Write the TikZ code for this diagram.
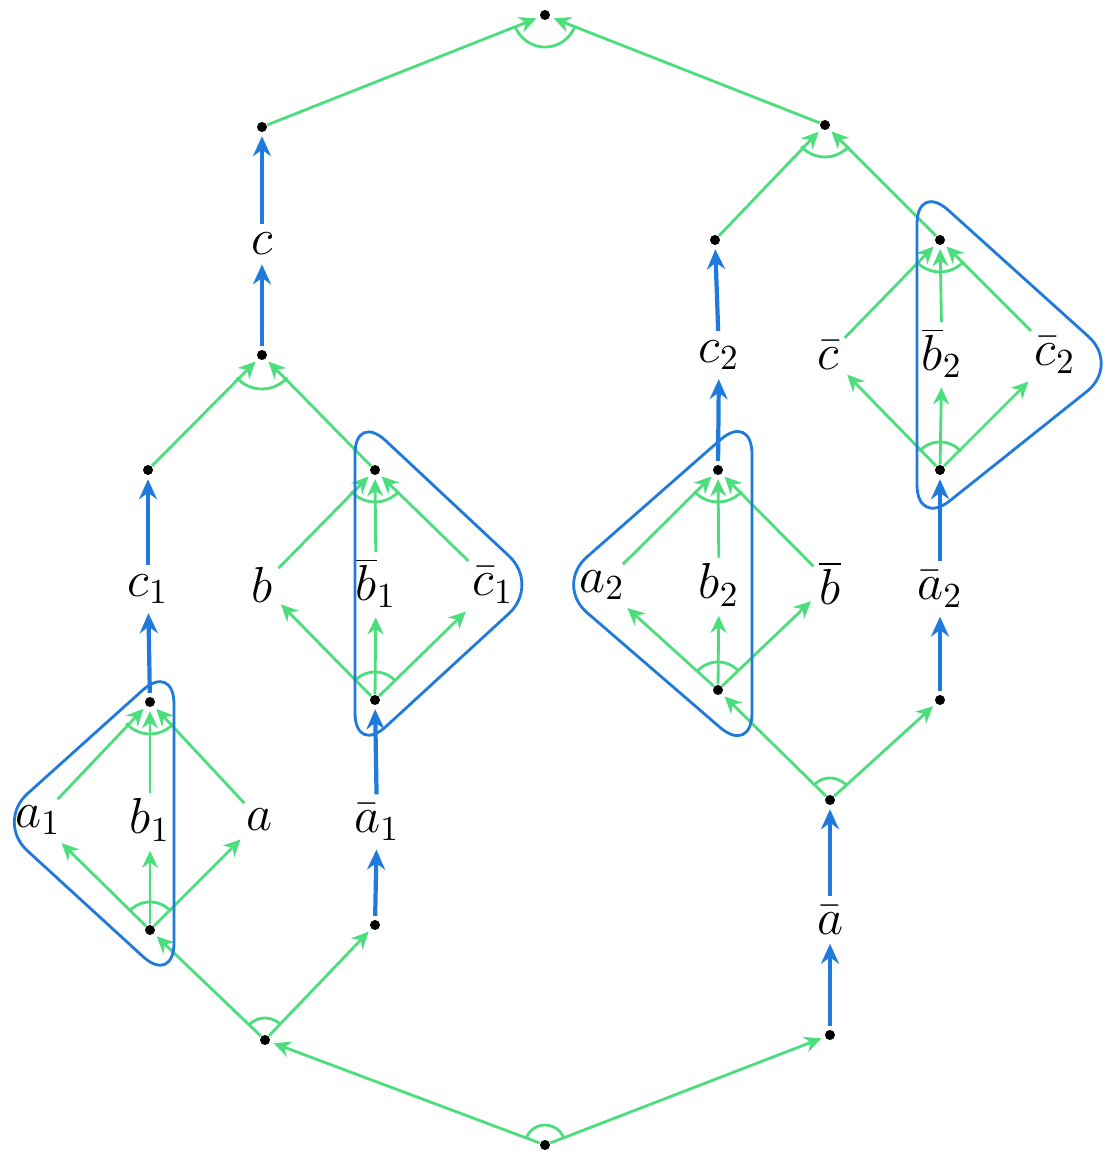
\documentclass[tikz,border=0pt]{standalone}
\usetikzlibrary{arrows.meta}
\definecolor{Leaf}{HTML}{4CDD7C}
\definecolor{Wire}{HTML}{1F7ADB}
\begin{document}
\begin{tikzpicture}[
    dot/.style={circle,fill=black,inner sep=0pt,minimum size=1mm},
    lab/.style={inner sep=1.5pt,font=\Large},
    link/.style={Leaf,thick,-{Stealth[length=1.7mm,width=1.6mm]},shorten >=1pt},
    wire/.style={Wire,very thick,-{Stealth[length=2mm,width=1.8mm]},shorten >=1pt,shorten <=1pt},
    parc/.style={Leaf,thick},
    zone/.style={Wire,thick,rounded corners=12pt}]
    \useasboundingbox (0,0) rectangle (11.06,11.57);

    % spine on the left
    \node[dot] (top) at (5.45,11.42) {};
    \node[dot] (l1) at (2.62,10.30) {};
    \node[dot] (r1) at (8.25,10.32) {};
    \node[lab] (c) at (2.62,9.13) {$c$};
    \node[dot] (l2) at (2.62,8.02) {};
    \node[dot] (l3) at (1.48,6.87) {};
    \node[lab] (c1) at (1.48,5.68) {$c_1$};

    % first group
    \node[dot] (p1) at (1.50,4.55) {};
    \node[lab] (a1) at (0.38,3.37) {$a_1$};
    \node[lab] (b1) at (1.50,3.37) {$b_1$};
    \node[lab] (a) at (2.60,3.37) {$a$};
    \node[dot] (q1) at (1.50,2.27) {};

    % second group
    \node[dot] (p2) at (3.75,6.87) {};
    \node[lab] (b) at (2.62,5.72) {$b$};
    \node[lab] (nb1) at (3.76,5.74) {$\overline{b}_1$};
    \node[lab] (nc1) at (4.93,5.72) {$\bar{c}_1$};
    \node[dot] (q2) at (3.75,4.57) {};
    \node[lab] (na1) at (3.77,3.35) {$\bar{a}_1$};
    \node[dot] (d1) at (3.75,2.32) {};

    % bottom
    \node[dot] (bl) at (2.65,1.17) {};
    \node[dot] (root) at (5.45,0.12) {};
    \node[dot] (br) at (8.30,1.22) {};
    \node[lab] (na) at (8.30,2.37) {$\bar{a}$};
    \node[dot] (y) at (8.30,3.57) {};

    % third group
    \node[dot] (p3) at (7.18,6.87) {};
    \node[lab] (a2) at (6.02,5.72) {$a_2$};
    \node[lab] (b2) at (7.19,5.72) {$b_2$};
    \node[lab] (nb) at (8.30,5.74) {$\overline{b}$};
    \node[dot] (q3) at (7.18,4.67) {};
    \node[lab] (c2) at (7.19,8.02) {$c_2$};
    \node[dot] (r2) at (7.15,9.17) {};

    % fourth group
    \node[dot] (d2) at (9.40,4.57) {};
    \node[lab] (na2) at (9.40,5.68) {$\bar{a}_2$};
    \node[dot] (p4) at (9.40,9.17) {};
    \node[lab] (nc) at (8.28,8.02) {$\bar{c}$};
    \node[lab] (nb2) at (9.42,8.04) {$\overline{b}_2$};
    \node[lab] (nc2) at (10.55,8.02) {$\bar{c}_2$};
    \node[dot] (q4) at (9.40,6.87) {};

    % blue wires
    \draw[wire] (c) -- (l1);
    \draw[wire] (l2) -- (c);
    \draw[wire] (c1) -- (l3);
    \draw[wire] (p1) -- (c1);
    \draw[wire] (d1) -- (na1);
    \draw[wire] (na1) -- (q2);
    \draw[wire] (br) -- (na);
    \draw[wire] (na) -- (y);
    \draw[wire] (p3) -- (c2);
    \draw[wire] (c2) -- (r2);
    \draw[wire] (d2) -- (na2);
    \draw[wire] (na2) -- (q4);

    % green links between dots
    \draw[link] (l1) -- (top);
    \draw[link] (r1) -- (top);
    \draw[link] (r2) -- (r1);
    \draw[link] (p4) -- (r1);
    \draw[link] (l3) -- (l2);
    \draw[link] (p2) -- (l2);
    \draw[link] (bl) -- (q1);
    \draw[link] (bl) -- (d1);
    \draw[link] (root) -- (bl);
    \draw[link] (root) -- (br);
    \draw[link] (y) -- (q3);
    \draw[link] (y) -- (d2);

    % green links inside the groups
    \draw[link] (q1) -- (a1);
    \draw[link] (q1) -- (b1);
    \draw[link] (q1) -- (a);
    \draw[link] (a1) -- (p1);
    \draw[link] (b1) -- (p1);
    \draw[link] (a) -- (p1);
    \draw[link] (q2) -- (b);
    \draw[link] (q2) -- (nb1);
    \draw[link] (q2) -- (nc1);
    \draw[link] (b) -- (p2);
    \draw[link] (nb1) -- (p2);
    \draw[link] (nc1) -- (p2);
    \draw[link] (q3) -- (a2);
    \draw[link] (q3) -- (b2);
    \draw[link] (q3) -- (nb);
    \draw[link] (a2) -- (p3);
    \draw[link] (b2) -- (p3);
    \draw[link] (nb) -- (p3);
    \draw[link] (q4) -- (nc);
    \draw[link] (q4) -- (nb2);
    \draw[link] (q4) -- (nc2);
    \draw[link] (nc) -- (p4);
    \draw[link] (nb2) -- (p4);
    \draw[link] (nc2) -- (p4);

    % arcs
    \draw[parc] (top.center) ++(200:0.32) arc[start angle=200,end angle=340,radius=0.32];
    \draw[parc] (r1.center) ++(222:0.32) arc[start angle=222,end angle=318,radius=0.32];
    \draw[parc] (l2.center) ++(222:0.34) arc[start angle=222,end angle=318,radius=0.34];
    \draw[parc] (p1.center) ++(222:0.32) arc[start angle=222,end angle=318,radius=0.32];
    \draw[parc] (p2.center) ++(222:0.32) arc[start angle=222,end angle=318,radius=0.32];
    \draw[parc] (p3.center) ++(222:0.32) arc[start angle=222,end angle=318,radius=0.32];
    \draw[parc] (p4.center) ++(222:0.32) arc[start angle=222,end angle=318,radius=0.32];
    \draw[parc] (q1.center) ++(42:0.28) arc[start angle=42,end angle=138,radius=0.28];
    \draw[parc] (q2.center) ++(42:0.28) arc[start angle=42,end angle=138,radius=0.28];
    \draw[parc] (q3.center) ++(42:0.28) arc[start angle=42,end angle=138,radius=0.28];
    \draw[parc] (q4.center) ++(42:0.28) arc[start angle=42,end angle=138,radius=0.28];
    \draw[parc] (bl.center) ++(44:0.22) arc[start angle=44,end angle=136,radius=0.22];
    \draw[parc] (y.center) ++(40:0.22) arc[start angle=40,end angle=138,radius=0.22];
    \draw[parc] (root.center) ++(24:0.2) arc[start angle=24,end angle=156,radius=0.2];

    % blue zones
    \draw[zone] (1.74,3.40) -- (1.74,4.95) -- (-0.04,3.35) -- (1.74,1.72) -- cycle;
    \draw[zone] (3.55,5.70) -- (3.55,7.45) -- (5.40,5.72) -- (3.55,4.02) -- cycle;
    \draw[zone] (7.52,5.70) -- (7.52,7.45) -- (5.55,5.72) -- (7.52,4.02) -- cycle;
    \draw[zone] (9.17,8.00) -- (9.17,9.75) -- (11.20,7.92) -- (9.17,6.30) -- cycle;
\end{tikzpicture}
\end{document}
